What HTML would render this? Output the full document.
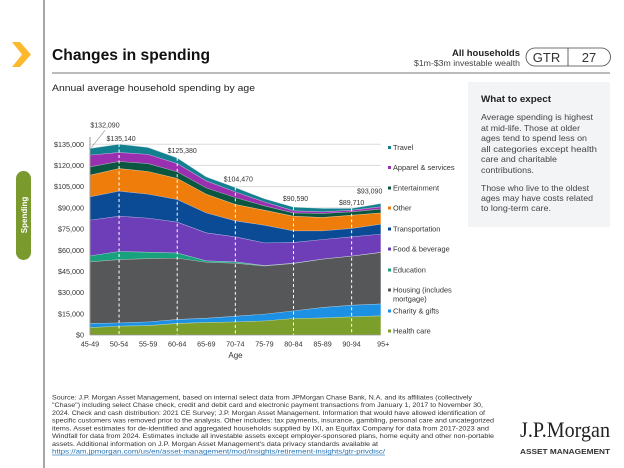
<!DOCTYPE html>
<html lang="en">
<head>
<meta charset="utf-8">
<title>Changes in spending</title>
<style>
html,body{margin:0;padding:0;background:#fff;width:624px;height:468px;overflow:hidden}
svg{display:block;font-family:"Liberation Sans",sans-serif}
</style>
</head>
<body>
<svg id="slide" width="624" height="468" viewBox="0 0 624 468" xmlns="http://www.w3.org/2000/svg">
  <rect width="624" height="468" fill="#fff"/>
  <line x1="44" y1="0" x2="44" y2="468" stroke="#8a8a8a" stroke-width="1.5"/>
  <polygon points="12,42 20,42 31,54.5 20,67 12,67 22,54.5" fill="#fdb92e"/>
  <rect x="16" y="171" width="15" height="89" rx="7.5" fill="#7a9a2e"/>
  <text transform="translate(27,215) rotate(-90)" text-anchor="middle" font-size="8" font-weight="bold" fill="#fff">Spending</text>

  <text x="52" y="60" font-size="16" font-weight="bold" fill="#111" textLength="158" lengthAdjust="spacingAndGlyphs">Changes in spending</text>
  <text x="452" y="56" font-size="9" font-weight="bold" fill="#222" textLength="68" lengthAdjust="spacingAndGlyphs">All households</text>
  <text x="414" y="66" font-size="8" fill="#444" textLength="106" lengthAdjust="spacingAndGlyphs">$1m-$3m investable wealth</text>
  <rect x="526" y="48" width="84.5" height="18" rx="9" fill="#fff" stroke="#444" stroke-width="0.8"/>
  <line x1="568" y1="48" x2="568" y2="66" stroke="#444" stroke-width="0.8"/>
  <text x="546.500" y="62" text-anchor="middle" font-size="13" fill="#333">GTR</text>
  <text x="589" y="62" text-anchor="middle" font-size="13" fill="#333">27</text>
  <line x1="52" y1="73" x2="610" y2="73" stroke="#777" stroke-width="1"/>
  <text x="52" y="91" font-size="9.5" fill="#222" textLength="203" lengthAdjust="spacingAndGlyphs">Annual average household spending by age</text>

  <g id="chart"></g>

  <g fill="#444" font-size="8.5">
    <rect x="468" y="82" width="142" height="145" fill="#f3f4f6"/>
    <text x="481" y="102" font-size="9.5" font-weight="bold" fill="#222" textLength="70" lengthAdjust="spacingAndGlyphs">What to expect</text>
    <text x="481" y="120" textLength="112" lengthAdjust="spacingAndGlyphs">Average spending is highest</text>
    <text x="481" y="131" textLength="99" lengthAdjust="spacingAndGlyphs">at mid-life. Those at older</text>
    <text x="481" y="141" textLength="106" lengthAdjust="spacingAndGlyphs">ages tend to spend less on</text>
    <text x="481" y="152" textLength="116" lengthAdjust="spacingAndGlyphs">all categories except health</text>
    <text x="481" y="162" textLength="76" lengthAdjust="spacingAndGlyphs">care and charitable</text>
    <text x="481" y="173" textLength="53" lengthAdjust="spacingAndGlyphs">contributions.</text>
    <text x="481" y="191" textLength="108" lengthAdjust="spacingAndGlyphs">Those who live to the oldest</text>
    <text x="481" y="201" textLength="112" lengthAdjust="spacingAndGlyphs">ages may have costs related</text>
    <text x="481" y="211" textLength="70" lengthAdjust="spacingAndGlyphs">to long-term care.</text>
  </g>

  <g font-size="6.3" fill="#333">
    <text x="52" y="399.500" textLength="420" lengthAdjust="spacingAndGlyphs">Source: J.P. Morgan Asset Management, based on internal select data from JPMorgan Chase Bank, N.A. and its affiliates (collectively</text>
    <text x="52" y="407.200" textLength="431" lengthAdjust="spacingAndGlyphs">"Chase") including select Chase check, credit and debit card and electronic payment transactions from January 1, 2017 to November 30,</text>
    <text x="52" y="414.900" textLength="433" lengthAdjust="spacingAndGlyphs">2024. Check and cash distribution: 2021 CE Survey; J.P. Morgan Asset Management. Information that would have allowed identification of</text>
    <text x="52" y="422.600" textLength="442" lengthAdjust="spacingAndGlyphs">specific customers was removed prior to the analysis. Other includes: tax payments, insurance, gambling, personal care and uncategorized</text>
    <text x="52" y="430.300" textLength="437" lengthAdjust="spacingAndGlyphs">items. Asset estimates for de-identified and aggregated households supplied by IXI, an Equifax Company for data from 2017-2023 and</text>
    <text x="52" y="438" textLength="442" lengthAdjust="spacingAndGlyphs">Windfall for data from 2024. Estimates include all investable assets except employer-sponsored plans, home equity and other non-portable</text>
    <text x="52" y="446" textLength="326" lengthAdjust="spacingAndGlyphs">assets. Additional information on J.P. Morgan Asset Management's data privacy standards available at</text>
    <text x="52" y="453.700" fill="#1f6fb5" text-decoration="underline" textLength="333" lengthAdjust="spacingAndGlyphs">https://am.jpmorgan.com/us/en/asset-management/mod/insights/retirement-insights/gtr-privdisc/</text>
  </g>

  <text x="520" y="437" font-family="'Liberation Serif',serif" font-size="22" fill="#222" textLength="90" lengthAdjust="spacingAndGlyphs">J.P.Morgan</text>
  <text x="520" y="454" font-size="7.5" font-weight="bold" fill="#333" textLength="90" lengthAdjust="spacingAndGlyphs">ASSET MANAGEMENT</text>
</svg>
<script>
const ages = ["45-49","50-54","55-59","60-64","65-69","70-74","75-79","80-84","85-89","90-94","95+"];
const yTicks = [0,15000,30000,45000,60000,75000,90000,105000,120000,135000];
const healthCare = [5400,6400,6800,8300,9000,9400,10100,11800,12200,13000,13700];
const charityGifts = [2900,2300,2600,2800,3000,4000,4800,5400,7400,8200,8400];
const housing = [43600,44800,44800,43400,39600,37500,34100,33500,34200,34700,36400];
const education = [4200,5700,4500,3700,1000,1000,300,200,100,100,100];
const foodBeverage = [25300,25000,24100,21800,19800,17700,16000,14700,13800,13600,12900];
const transportation = [16500,17700,17000,16000,14100,11300,12500,8200,6100,5900,7000];
const other = [15300,16000,16000,14900,13300,11600,10600,10400,9500,9400,8000];
const entertainment = [5900,5000,5600,4700,4400,4900,3100,2300,2800,2400,2700];
const apparelServices = [8300,6400,6500,5800,5000,4000,2800,1500,1200,1100,1600];
const travel = [4690,5840,4900,3980,2800,3070,2200,2590,2400,1310,2290];
const labelledAges = [0,1,3,5,7,9,10];

const SVGNS = "http://www.w3.org/2000/svg";
const chart = document.getElementById("chart");
const x0 = 90, xStep = 29.07, yBase = 335, pxPerDollar = 21.2 / 15000;
const xAt = i => x0 + i * xStep;
const yAt = v => yBase - v * pxPerDollar;
function make(tag, props) {
  const el = document.createElementNS(SVGNS, tag);
  for (const k in props) el.setAttribute(k, props[k]);
  chart.appendChild(el);
  return el;
}

/* gridlines */
yTicks.forEach(t => {
  if (t === 0) return;
  const g = make("line", {x1: x0, x2: xAt(ages.length - 1), y1: yAt(t), y2: yAt(t), stroke: "#dcdcdc", "stroke-width": 1});
  
  
});

/* stacked series, bottom to top */
const layers = [
  {values: healthCare, color: "#7c9f2b", id: "health-care"},
  {values: charityGifts, color: "#1c90e2", id: "charity-gifts"},
  {values: housing, color: "#565759", id: "housing"},
  {values: education, color: "#17a17c", id: "education"},
  {values: foodBeverage, color: "#6e3eb9", id: "food-beverage"},
  {values: transportation, color: "#0b4b96", id: "transportation"},
  {values: other, color: "#ee7d0b", id: "other"},
  {values: entertainment, color: "#0b5640", id: "entertainment"},
  {values: apparelServices, color: "#9a2fb0", id: "apparel-services"},
  {values: travel, color: "#13808f", id: "travel"}
];
const totals = ages.map(() => 0);
layers.forEach(layer => {
  const lower = totals.slice();
  layer.values.forEach((v, i) => { totals[i] += v; });
  const topPts = totals.map((v, i) => xAt(i).toFixed(2) + "," + yAt(v).toFixed(2));
  const botPts = lower.map((v, i) => xAt(i).toFixed(2) + "," + yAt(v).toFixed(2)).reverse();
  const area = make("polygon", {points: topPts.concat(botPts).join(" "), fill: layer.color});
  
  
  const edge = make("polyline", {points: topPts.join(" "), fill: "none", stroke: "#fff", "stroke-opacity": 0.6, "stroke-width": 0.9});
  
  
});

/* dashed guides on alternating ages */
labelledAges.forEach(i => {
  if (i === 0 || i === ages.length - 1) return;
  const d = make("line", {x1: xAt(i), x2: xAt(i), y1: yAt(totals[i]), y2: yBase, stroke: "#fff", "stroke-width": 1, "stroke-dasharray": "3 2.500"});
  
  
});

/* axes */
const yAxis = make("line", {x1: x0, x2: x0, y1: 137, y2: yBase, stroke: "#999", "stroke-width": 1});


const xAxis = make("line", {x1: x0, x2: xAt(ages.length - 1), y1: yBase, y2: yBase, stroke: "#999", "stroke-width": 0.8});



yTicks.forEach(t => {
  const el = make("text", {x: 84, y: yAt(t) + 2.6, "text-anchor": "end", "font-size": 7.2, fill: "#333"});
  el.textContent = "$" + t.toLocaleString("en-US");
  
  
});
ages.forEach((a, i) => {
  const shift = i === ages.length - 1 ? 2.5 : 0;
  const el = make("text", {x: xAt(i) + shift, y: 346.5, "text-anchor": "middle", "font-size": 7.2, fill: "#333"});
  el.textContent = a;
  
  
});
const xTitle = make("text", {x: 235.5, y: 358, "text-anchor": "middle", "font-size": 8, fill: "#333"});
xTitle.textContent = "Age";



/* value callouts: label placement relative to each mark */
const calloutShift = [[15,-21],[2,-3],[5,-5],[3,-6],[2,-6],[0,-3],[-11,-10]];
labelledAges.forEach((i, n) => {
  const el = make("text", {x: xAt(i) + calloutShift[n][0], y: yAt(totals[i]) + calloutShift[n][1], "text-anchor": "middle", "font-size": 7, fill: "#333"});
  el.textContent = "$" + totals[i].toLocaleString("en-US");
  
  
});
const leader = make("line", {x1: xAt(0) + 1.5, y1: yAt(totals[0]) - 1, x2: xAt(0) + 15, y2: yAt(totals[0]) - 18, stroke: "#999", "stroke-width": 0.7});



/* legend */
const legendNames = ["Travel","Apparel & services","Entertainment","Other","Transportation","Food & beverage","Education","Housing (includes","Charity & gifts","Health care"];
const legendColors = ["#13808f","#9a2fb0","#0b5640","#ee7d0b","#0b4b96","#6e3eb9","#17a17c","#565759","#1c90e2","#7c9f2b"];
const legendY = [147.5,167.5,188,208,229,249,270,290,311,331];
legendNames.forEach((name, i) => {
  const sw = make("rect", {x: 388, y: legendY[i] - 1.5, width: 3, height: 3, fill: legendColors[i]});
  
  
  const t = make("text", {x: 393, y: legendY[i] + 2.5, "font-size": 7.4, fill: "#333"});
  t.textContent = name;
  
  
});
const legendWrap = make("text", {x: 393, y: 301.5, "font-size": 7.4, fill: "#333"});
legendWrap.textContent = "mortgage)";


</script>
</body>
</html>
